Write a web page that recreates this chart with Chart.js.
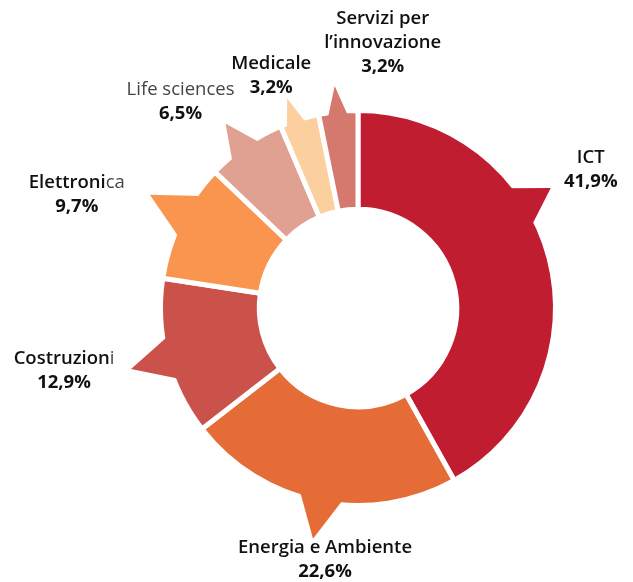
<!DOCTYPE html>
<html>
<head>
<meta charset="utf-8">
<script src="https://cdn.jsdelivr.net/npm/chart.js@4"></script>
<style>
  body { margin: 0; background: #fff; }
  canvas { display: block; }
</style>
</head>
<body>
<canvas id="myChart" width="633" height="582"></canvas>
<script>
// dati
var categories = ['ICT', 'Energia e Ambiente', 'Costruzioni', 'Elettronica', 'Life sciences', 'Medicale', ['Servizi per', 'l\u2019innovazione']];
var shares = [41.9, 22.6, 12.9, 9.7, 6.5, 3.2, 3.2];
var colors = ['#C01E30', '#E56C37', '#CB524B', '#F9954F', '#E0A092', '#FBCF9E', '#D5786E'];

// where the normal-weight (grey) part of a label starts, -1 = all bold
var lightFrom = [-1, -1, 10, 9, 0, -1, -1];

// callout pointers: position along arc (0..1), tip length (x outer radius), half base (deg)
var tipAt = [0.385, 0.494, 0.49, 0.57, 0.46, 0.38, 0.48];
var tipLen = [1.15, 1.19, 1.19, 1.2, 1.15, 1.12, 1.13];
var halfBase = [6.5, 6.5, 6.5, 7, 5, 3, 3];
// label offset from the pointer tip (first line centre)
var labelOff = [[40, -30], [12, 9], [-67, -10], [-73, -12], [-45, -34], [-16, -35], [48, -67]];

var FONT = '"Open Sans", "Noto Sans", sans-serif';
var SIZE = '18.5px ';
var LINE = 24;

function fmt(v) {
  return v.toFixed(1).replace('.', ',') + '%';
}

function tipPoint(arc, i) {
  var a = arc.startAngle + (arc.endAngle - arc.startAngle) * tipAt[i];
  var r = arc.outerRadius * tipLen[i];
  return { a: a, x: arc.x + r * Math.cos(a), y: arc.y + r * Math.sin(a) };
}

var calloutPlugin = {
  id: 'callouts',
  afterDatasetsDraw: function (chart) {
    var ctx = chart.ctx;
    var meta = chart.getDatasetMeta(0);
    meta.data.forEach(function (arc, i) {
      var t = tipPoint(arc, i);
      var hb = halfBase[i] * Math.PI / 180;
      var rb = arc.outerRadius - 5;
      ctx.save();
      ctx.fillStyle = colors[i];
      ctx.beginPath();
      ctx.moveTo(arc.x + rb * Math.cos(t.a - hb), arc.y + rb * Math.sin(t.a - hb));
      ctx.lineTo(t.x, t.y);
      ctx.lineTo(arc.x + rb * Math.cos(t.a + hb), arc.y + rb * Math.sin(t.a + hb));
      ctx.closePath();
      ctx.fill();
      ctx.restore();
    });
  },
  afterDraw: function (chart) {
    var ctx = chart.ctx;
    var meta = chart.getDatasetMeta(0);
    ctx.save();
    ctx.textBaseline = 'middle';
    ctx.textAlign = 'left';
    meta.data.forEach(function (arc, i) {
      var t = tipPoint(arc, i);
      var cx = t.x + labelOff[i][0];
      var y = t.y + labelOff[i][1];
      var lines = Array.isArray(categories[i]) ? categories[i] : [categories[i]];
      lines.forEach(function (line) {
        var parts;
        if (lightFrom[i] < 0) parts = [[line, '600', '#111']];
        else parts = [[line.slice(0, lightFrom[i]), '600', '#111'], [line.slice(lightFrom[i]), '400', '#444']];
        var total = 0;
        parts.forEach(function (p) {
          ctx.font = p[1] + ' ' + SIZE + FONT;
          p.push(ctx.measureText(p[0]).width);
          total += p[3];
        });
        var x = cx - total / 2;
        parts.forEach(function (p) {
          ctx.font = p[1] + ' ' + SIZE + FONT;
          ctx.fillStyle = p[2];
          ctx.fillText(p[0], x, y);
          x += p[3];
        });
        y += LINE;
      });
      ctx.font = '700 ' + SIZE + FONT;
      ctx.fillStyle = '#111';
      ctx.textAlign = 'center';
      ctx.fillText(fmt(shares[i]), cx, y);
      ctx.textAlign = 'left';
    });
    ctx.restore();
  }
};

var ctx = document.getElementById('myChart').getContext('2d');
var chart = new Chart(ctx, {
  type: 'doughnut',
  data: {
    labels: categories,
    datasets: [{
      data: shares,
      backgroundColor: colors,
      borderColor: '#fff',
      borderWidth: 5,
      spacing: 0
    }]
  },
  options: {
    responsive: false,
    animation: false,
    cutout: '50%',
    layout: { padding: { left: 158, right: 75, top: 108, bottom: 74 } },
    plugins: {
      legend: { display: false },
      tooltip: { enabled: false }
    }
  },
  plugins: [calloutPlugin]
});
</script>
</body>
</html>
